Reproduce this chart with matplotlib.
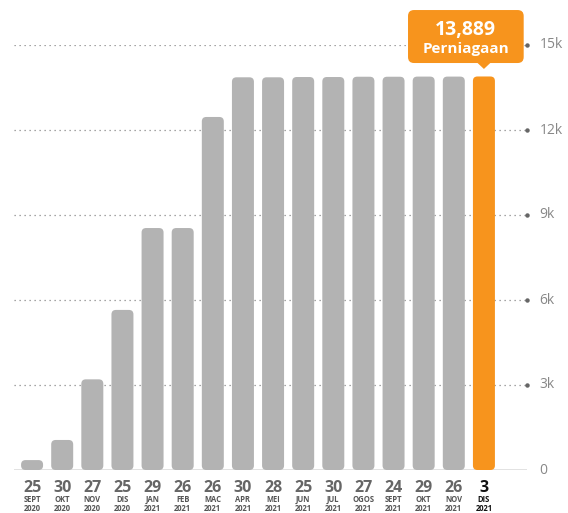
import numpy as np
import matplotlib.pyplot as plt
from matplotlib.patches import FancyBboxPatch, Polygon
from matplotlib.transforms import blended_transform_factory

plt.rcParams['font.family'] = ['Open Sans', 'DejaVu Sans']

# data
days = ['25', '30', '27', '25', '29', '26', '26', '30', '28', '25', '30', '27', '24', '29', '26', '3']
months = ['SEPT', 'OKT', 'NOV', 'DIS', 'JAN', 'FEB', 'MAC', 'APR', 'MEI', 'JUN', 'JUL', 'OGOS',
          'SEPT', 'OKT', 'NOV', 'DIS']
years = ['2020', '2020', '2020', '2020', '2021', '2021', '2021', '2021', '2021', '2021', '2021',
         '2021', '2021', '2021', '2021', '2021']
values = [350, 1060, 3200, 5650, 8540, 8540, 12460, 13860, 13860, 13870, 13870, 13880,
          13880, 13885, 13885, 13889]
yticks = [0, 3000, 6000, 9000, 12000, 15000]
ytick_labels = ['0', '3k', '6k', '9k', '12k', '15k']

grey = '#b3b3b3'
orange = '#f7941d'

W, H = 568, 513
fig = plt.figure(figsize=(W / 100, H / 100), dpi=100)
ax = fig.add_axes([14 / W, 1 - 470 / H, (527 - 14) / W, (470 - 45) / H])

n = len(values)
ax.set_xlim(-0.6, 16.43)
ax.set_ylim(0, 15000)

# px per data unit, for rounded corners
px_x = (527 - 14) / (16.43 + 0.6)
px_y = (470 - 45) / 15000
aspect = px_x / px_y

bw = 0.73
for i, v in enumerate(values):
    c = orange if i == n - 1 else grey
    p = FancyBboxPatch((i - bw / 2, 0), bw, v,
                       boxstyle='round,pad=0,rounding_size=%f' % (4.5 / px_x),
                       mutation_aspect=aspect, fc=c, ec='none', zorder=3)
    ax.add_patch(p)

# grid
for t in yticks[1:]:
    ax.plot([-0.6, 16.43], [t, t], ls=(0, (1, 3)), lw=0.9, color='#888888', zorder=1)
    ax.plot([16.43], [t], 'o', ms=2.2, color='#666666', zorder=1, clip_on=False)
ax.plot([-0.6, 16.43], [0, 0], lw=1.2, color='#dddddd', zorder=2)

for t, lab in zip(yticks, ytick_labels):
    ax.text(16.43 + 0.42, t, lab, ha='left', va='center', fontsize=10, color='#888888')

for s in ax.spines.values():
    s.set_visible(False)
ax.set_xticks([])
ax.set_yticks([])

# x labels
tr = blended_transform_factory(ax.transData, fig.transFigure)
for i in range(n):
    last = i == n - 1
    col = '#111111' if last else '#666666'
    col2 = '#111111' if last else '#555555'
    ax.text(i, 1 - 488.5 / H, days[i], transform=tr, ha='center', va='center',
            fontsize=11.5, fontweight='bold', color=col)
    ax.text(i, 1 - 500 / H, months[i], transform=tr, ha='center', va='center',
            fontsize=5.5, fontweight='bold', color=col2)
    ax.text(i, 1 - 508.5 / H, years[i], transform=tr, ha='center', va='center',
            fontsize=5.5, fontweight='bold', color=col2)

# callout above the last bar
xl = n - 1
vl = values[-1]
tip = vl + 265
b0 = vl + 475
b1 = vl + 2345
x0 = xl - 2.52
x1 = xl + 1.32
box = FancyBboxPatch((x0, b0), x1 - x0, b1 - b0,
                     boxstyle='round,pad=0,rounding_size=%f' % (6 / px_x),
                     mutation_aspect=aspect, fc=orange, ec='none', zorder=5, clip_on=False)
ax.add_patch(box)
tri = Polygon([[xl - 0.22, b0 + 10], [xl + 0.22, b0 + 10], [xl, tip]], closed=True,
              fc=orange, ec='none', zorder=5, clip_on=False)
ax.add_patch(tri)
xc = (x0 + x1) / 2
ax.text(xc, b0 + (b1 - b0) * 0.63, '{:,}'.format(vl), ha='center', va='center',
        fontsize=14, fontweight='bold', color='white', zorder=6)
ax.text(xc, b0 + (b1 - b0) * 0.27, 'Perniagaan', ha='center', va='center',
        fontsize=11, fontweight='bold', color='white', zorder=6)

fig.savefig('out.png', dpi=100)
